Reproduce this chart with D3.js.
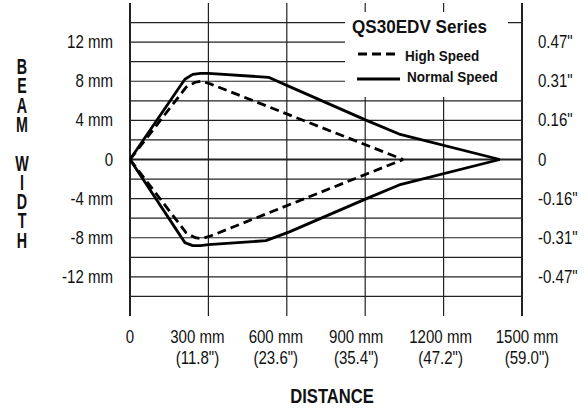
<!DOCTYPE html>
<html>
<head>
<meta charset="utf-8">
<script src="https://cdn.jsdelivr.net/npm/d3@7"></script>
<style>
  body { margin: 0; background: #fff; }
  svg { display: block; font-family: "Liberation Sans", Arial, sans-serif; }
</style>
</head>
<body>
<svg id="chart" width="588" height="408"></svg>
<script>
// data, distance in mm, beam half-width in mm
var normalSpeed = [[0,0],[210,8.2],[240,8.7],[270,8.8],[300,8.8],[530,8.4],[615,7.4],[905,4.0],[1030,2.6],[1415,0]];
var normalSpeedLow = [[0,0],[210,-8.5],[240,-8.8],[270,-8.8],[300,-8.7],[520,-8.3],[610,-7.4],[905,-4.0],[1030,-2.6],[1415,0]];
var highSpeed = [[0,0],[215,7.4],[250,7.9],[275,8.0],[310,7.7],[1045,0]];
var highSpeedLow = [[0,0],[215,-7.5],[250,-8.0],[275,-8.1],[310,-7.8],[1045,0]];

var xTicks = [0, 300, 600, 900, 1200, 1500];
var xLabels = ["0", "300 mm", "600 mm", "900 mm", "1200 mm", "1500 mm"];
var xLabelsIn = ["", "(11.8\")", "(23.6\")", "(35.4\")", "(47.2\")", "(59.0\")"];
var yTicks = [12, 8, 4, 0, -4, -8, -12];
var yLabels = ["12 mm", "8 mm", "4 mm", "0", "-4 mm", "-8 mm", "-12 mm"];
var yLabelsIn = ["0.47\"", "0.31\"", "0.16\"", "0", "-0.16\"", "-0.31\"", "-0.47\""];
var yGrid = d3.range(-14, 15, 2);
var yTitleWords = ["BEAM", "WIDTH"];

// labels under the x axis sit a bit left of their grid lines in the original
var xLabelShift = [0, -11, -11, -9, -3, 5];

var svg = d3.select("#chart");
var x = d3.scaleLinear().domain([0, 1500]).range([130, 522]);
var y = d3.scaleLinear().domain([-16, 16]).range([316, 3]);

// text drawn horizontally squeezed, to look like a narrow font
function narrowText(g, px, py, str, size, sx, anchor, weight) {
  return g.append("text")
    .attr("transform", "translate(" + px + "," + py + ") scale(" + sx + ",1)")
    .attr("text-anchor", anchor || "start")
    .attr("font-size", size)
    .attr("font-weight", weight || "normal")
    .attr("fill", "#111")
    .text(str);
}

// horizontal grid
svg.append("g").selectAll("line").data(yGrid).enter().append("line")
  .attr("x1", x(0)).attr("x2", x(1500))
  .attr("y1", function(d){ return y(d); }).attr("y2", function(d){ return y(d); })
  .attr("stroke", "#222")
  .attr("stroke-width", function(d){ return d === 0 ? 2 : 1.2; });

// vertical grid
svg.append("g").selectAll("line").data(xTicks).enter().append("line")
  .attr("x1", function(d){ return x(d); }).attr("x2", function(d){ return x(d); })
  .attr("y1", y(16)).attr("y2", y(-16))
  .attr("stroke", "#222")
  .attr("stroke-width", function(d){ return d === 0 || d === 1500 ? 2 : 1.2; });

// legend background hides grid
svg.append("rect").attr("x", 345).attr("y", 12).attr("width", 163).attr("height", 22).attr("fill", "#fff");
svg.append("rect").attr("x", 345).attr("y", 33).attr("width", 176).attr("height", 64).attr("fill", "#fff");

var line = d3.line().x(function(d){ return x(d[0]); }).y(function(d){ return y(d[1]); });

[highSpeed, highSpeedLow].forEach(function(s){
  svg.append("path").attr("d", line(s)).attr("fill", "none")
    .attr("stroke", "#000").attr("stroke-width", 2.8)
    .attr("stroke-dasharray", "9,5");
});
[normalSpeed, normalSpeedLow].forEach(function(s){
  svg.append("path").attr("d", line(s)).attr("fill", "none")
    .attr("stroke", "#000").attr("stroke-width", 2.8)
    .attr("stroke-linejoin", "round");
});

// y labels, left in mm and right in inches
var yl = svg.append("g");
yTicks.forEach(function(d, i){
  narrowText(yl, 113, y(d) + 6, yLabels[i], 17.5, 0.86, "end");
  narrowText(yl, 538, y(d) + 6, yLabelsIn[i], 17.5, 0.86, "start");
});

// x labels
var xl = svg.append("g");
xTicks.forEach(function(d, i){
  narrowText(xl, x(d) + xLabelShift[i], 343, xLabels[i], 17.5, 0.86, "middle");
  narrowText(xl, x(d) + xLabelShift[i], 364, xLabelsIn[i], 17.5, 0.86, "middle");
});

narrowText(svg, 332, 403, "DISTANCE", 21, 0.79, "middle", "bold");

// vertical stacked y title, one text per word, one letter per tspan
var pitch = 19.3;
yTitleWords.forEach(function(w, wi){
  var t = narrowText(svg, 22, 74 + wi * 5 * pitch, "", 22, 0.65, "middle", "bold");
  w.split("").forEach(function(c, i){
    t.append("tspan").attr("x", 0).attr("dy", i === 0 ? 0 : pitch).text(c);
  });
});

// legend
narrowText(svg, 352, 33, "QS30EDV Series", 18, 0.95, "start", "bold");
svg.append("line").attr("x1", 358).attr("x2", 400).attr("y1", 54).attr("y2", 54)
  .attr("stroke", "#000").attr("stroke-width", 2.8).attr("stroke-dasharray", "9,5");
narrowText(svg, 405, 61, "High Speed", 14.5, 0.93, "start", "bold");
svg.append("line").attr("x1", 357).attr("x2", 400).attr("y1", 79).attr("y2", 79)
  .attr("stroke", "#000").attr("stroke-width", 2.8);
narrowText(svg, 407, 82, "Normal Speed", 14.5, 0.93, "start", "bold");
</script>
</body>
</html>
